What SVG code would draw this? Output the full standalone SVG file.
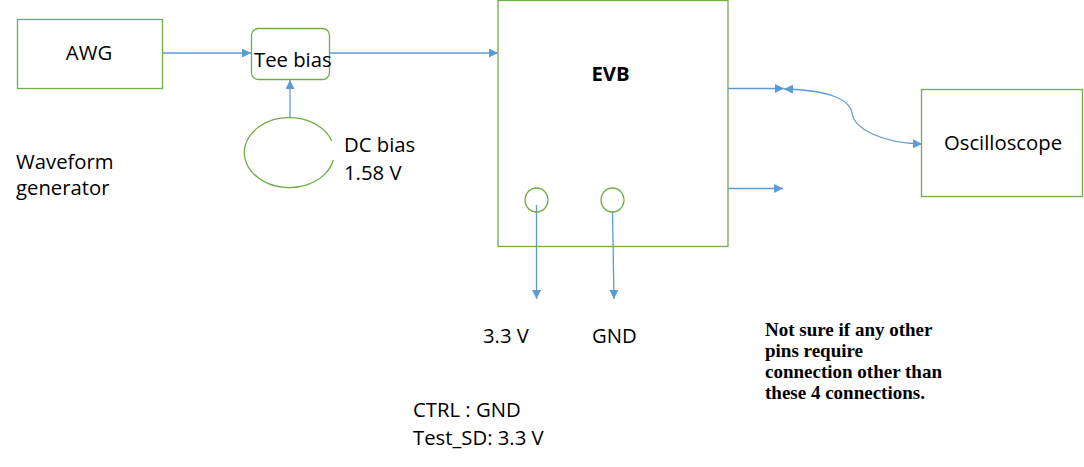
<svg xmlns="http://www.w3.org/2000/svg" width="1084" height="467" viewBox="0 0 1084 467">
<defs>
<style>
.box{fill:none;stroke:#70AD47;stroke-width:1.3}
.wire{fill:none;stroke:#5B9BD5;stroke-width:1.3}
.lbl{font-family:"Open Sans","Liberation Sans",sans-serif;font-size:20.3px;fill:#000}
.bold{font-weight:bold}
.note{font-family:"Liberation Serif","Times New Roman",serif;font-weight:bold;font-size:19px;fill:#000}
</style>
<marker id="ah" markerUnits="userSpaceOnUse" markerWidth="9" markerHeight="9" viewBox="0 0 9 9" refX="9" refY="4.5" orient="auto-start-reverse">
<path d="M0,0 L9,4.5 L0,9 z" fill="#5B9BD5"/>
</marker>
</defs>
<rect width="1084" height="467" fill="#fff"/>

<g id="connectors">
<line class="wire" x1="162" y1="53" x2="251" y2="53" marker-end="url(#ah)"/>
<line class="wire" x1="329" y1="53" x2="498" y2="53" marker-end="url(#ah)"/>
<line class="wire" x1="290" y1="117" x2="290" y2="80" marker-end="url(#ah)"/>
<line class="wire" x1="728" y1="88.5" x2="784" y2="88.5" marker-end="url(#ah)"/>
<line class="wire" x1="728" y1="188.5" x2="783" y2="188.5" marker-end="url(#ah)"/>
<path class="wire" d="M784,89 C830,90 850,100 852,113 C854,128 880,143 922,144" marker-start="url(#ah)" marker-end="url(#ah)"/>
<line class="wire" x1="536.5" y1="205" x2="536.5" y2="299" marker-end="url(#ah)"/>
<line class="wire" x1="612.5" y1="212" x2="614" y2="299" marker-end="url(#ah)"/>
</g>

<g id="awg">
<rect class="box" x="17.5" y="19.5" width="145" height="69"/>
<text class="lbl" x="89" y="60" text-anchor="middle">AWG</text>
</g>

<g id="waveform-label">
<text class="lbl" x="16" y="169">Waveform</text>
<text class="lbl" x="16" y="195">generator</text>
</g>

<g id="tee-bias">
<rect class="box" x="251.5" y="28.5" width="78" height="51" rx="7"/>
<text class="lbl" x="254" y="66.5">Tee bias</text>
</g>

<g id="dc-bias">
<path class="box" d="M331.8,141 A45 35 0 1 0 333.3,160"/>
<text class="lbl" x="344" y="152">DC bias</text>
<text class="lbl" x="344" y="180">1.58 V</text>
</g>

<g id="evb">
<rect class="box" x="498" y="0.5" width="230" height="246"/>
<text class="lbl bold" x="610.5" y="81" text-anchor="middle">EVB</text>
</g>

<g id="pin-3v3">
<ellipse class="box" cx="536.5" cy="200" rx="11.5" ry="12"/>
<text class="lbl" x="483" y="343">3.3 V</text>
</g>

<g id="pin-gnd">
<ellipse class="box" cx="612.5" cy="200" rx="11.5" ry="12"/>
<text class="lbl" x="592" y="343">GND</text>
</g>

<g id="oscilloscope">
<rect class="box" x="921.5" y="89.5" width="161" height="107"/>
<text class="lbl" x="1003" y="150" text-anchor="middle">Oscilloscope</text>
</g>

<g id="settings">
<text class="lbl" x="413" y="417">CTRL : GND</text>
<text class="lbl" x="413" y="445">Test_SD: 3.3 V</text>
</g>

<g id="note">
<text class="note" x="765" y="336">Not sure if any other</text>
<text class="note" x="765" y="357">pins require</text>
<text class="note" x="765" y="378">connection other than</text>
<text class="note" x="765" y="399">these 4 connections.</text>
</g>
</svg>
